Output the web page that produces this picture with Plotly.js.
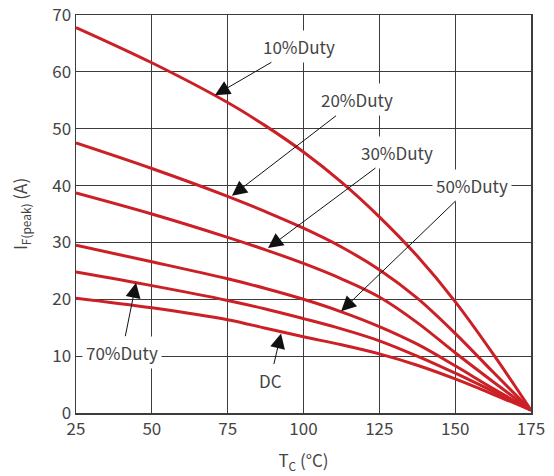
<!DOCTYPE html>
<html>
<head>
<meta charset="utf-8">
<script src="https://cdn.plot.ly/plotly-3.0.1.min.js"></script>
<style>html,body{margin:0;padding:0;background:#fff;}</style>
</head>
<body>
<div id="chart" style="width:554px;height:476px;"></div>
<script>
// Case temperature Tc (°C)
const tc = [25, 50, 75, 87.5, 100, 112.5, 125, 137.5, 150, 162.5, 175];
// Peak forward current IF(peak) (A) per duty
const duty10 = [67.8, 61.6, 54.6, 50.5, 45.9, 40.6, 34.5, 27.6, 19.6, 10.4, 0.5];
const duty20 = [47.5, 43.0, 38.1, 35.4, 32.5, 29.2, 25.2, 20.2, 14.0, 7.2, 0.5];
const duty30 = [38.7, 35.0, 30.9, 28.7, 26.3, 23.6, 20.4, 15.9, 10.6, 5.5, 0.5];
const duty50 = [29.5, 26.6, 23.6, 21.9, 20.0, 17.8, 15.2, 12.1, 8.3, 4.3, 0.5];
const duty70 = [24.8, 22.4, 19.8, 18.3, 16.6, 14.8, 12.7, 10.0, 7.0, 3.8, 0.5];
const dutyDC = [20.2, 18.5, 16.4, 14.9, 13.4, 12.0, 10.4, 8.4, 6.0, 3.3, 0.5];

const seriesNames = ["10%Duty", "20%Duty", "30%Duty", "50%Duty", "70%Duty", "DC"];
const seriesValues = [duty10, duty20, duty30, duty50, duty70, dutyDC];

// Annotation labels: label centre (ax, ay) and arrow tip (x, y), in data units
const labelText = ["10%Duty", "20%Duty", "30%Duty", "50%Duty", "70%Duty", "DC"];
const labelX = [98.5, 117.6, 130.8, 155.6, 40.2, 89.0];
const labelY = [64.5, 55.1, 45.9, 40.1, 10.7, 5.8];
const tipX = [70.8, 76.4, 88.3, 112.4, 44.8, 92.6];
const tipY = [55.9, 38.2, 29.0, 17.9, 22.9, 14.0];

const xTicks = [25, 50, 75, 100, 125, 150, 175];
const yTicks = [0, 10, 20, 30, 40, 50, 60, 70];

const FONT = '"Noto Sans CJK JP", "Noto Sans", sans-serif';
const RED = '#cc2027';
const TXT = '#444444';

const traces = seriesValues.map((v, i) => ({
  x: tc, y: v, name: seriesNames[i], type: 'scatter', mode: 'lines',
  line: {color: RED, width: 3, shape: 'spline', smoothing: 1},
  hoverinfo: 'skip'
}));

const annotations = labelText.map((t, i) => ({
  text: t, x: tipX[i], y: tipY[i], xref: 'x', yref: 'y',
  ax: labelX[i], ay: labelY[i], axref: 'x', ayref: 'y',
  showarrow: true, arrowhead: 2, arrowsize: 3, arrowwidth: 1, arrowcolor: '#111',
  bgcolor: '#ffffff', borderpad: 3,
  font: {family: FONT, size: 17, color: TXT}
}));

const axisCommon = {
  showgrid: true, gridcolor: '#3c3c3c', gridwidth: 1.2,
  showline: true, linecolor: '#3c3c3c', linewidth: 1.5, mirror: true,
  zeroline: false, ticks: '',
  tickfont: {family: FONT, size: 17, color: TXT}
};

const layout = {
  width: 554, height: 476,
  margin: {l: 76, r: 23, t: 15, b: 63},
  paper_bgcolor: '#fff', plot_bgcolor: '#fff',
  showlegend: false,
  xaxis: Object.assign({}, axisCommon, {
    range: [25, 175], tickvals: xTicks, ticktext: xTicks.map(String),
    title: {text: 'T<sub>C</sub> (°C)', font: {family: FONT, size: 17, color: TXT}, standoff: 16}
  }),
  yaxis: Object.assign({}, axisCommon, {
    range: [0, 70], tickvals: yTicks, ticktext: yTicks.map(String),
    title: {text: 'I<sub>F(peak)</sub> (A)', font: {family: FONT, size: 17, color: TXT}, standoff: 20}
  }),
  annotations: annotations
};

Plotly.newPlot('chart', traces, layout, {displayModeBar: false, staticPlot: true});
</script>
</body>
</html>
